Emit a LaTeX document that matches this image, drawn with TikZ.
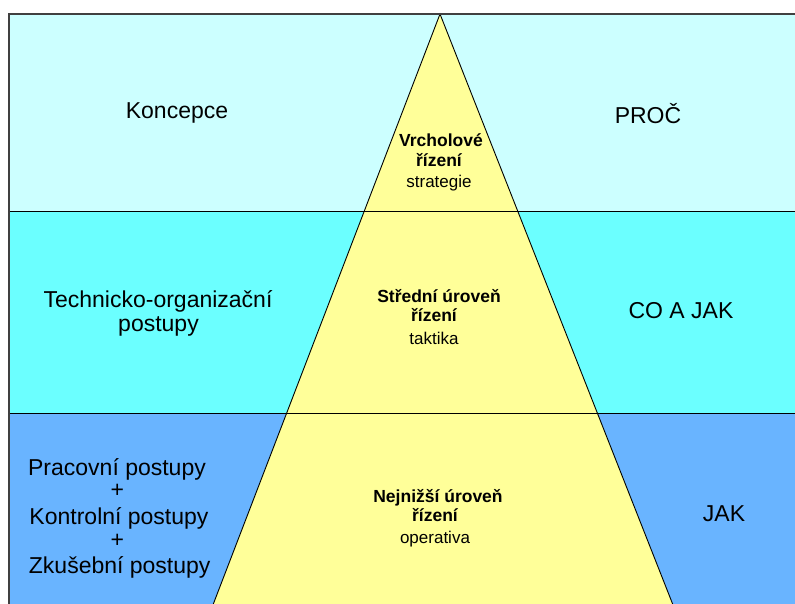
\documentclass[tikz,border=0pt]{standalone}
\usepackage{fontspec}
\setmainfont{Liberation Sans}
\definecolor{bandA}{HTML}{CCFFFF}
\definecolor{bandB}{HTML}{6BFFFF}
\definecolor{bandC}{HTML}{69B4FF}
\definecolor{pyr}{HTML}{FFFF99}
\definecolor{frame}{HTML}{404040}
\begin{document}
\begin{tikzpicture}[x=1pt,y=-1pt,
  side/.style={font=\fontsize{23}{27}\selectfont, anchor=base, inner sep=0pt},
  plus/.style={font=\fontsize{23}{27}\selectfont, anchor=center, inner sep=0pt},
  lvlb/.style={font=\fontsize{17.5}{21}\selectfont\bfseries, anchor=base, inner sep=0pt},
  lvlr/.style={font=\fontsize{17}{21}\selectfont, anchor=base, inner sep=0pt},
  bandline/.style={draw=black, line width=1pt},
  edge/.style={draw=black, line width=0.9pt}]
\path[use as bounding box] (0,0) rectangle (795,604);
\clip (0,0) rectangle (795,604);
\fill[white] (0,0) rectangle (795,604);
% bands
\fill[bandA] (9,14) rectangle (800,212);
\fill[bandB] (9,212) rectangle (800,413);
\fill[bandC] (9,413) rectangle (800,612);
% pyramid
\coordinate (apex) at (440,14);
\coordinate (bl) at (211,610);
\coordinate (br) at (675,610);
\filldraw[fill=pyr, edge] (apex) -- (bl) -- (br) -- cycle;
% band separators
\coordinate (s1l) at (9,212);
\coordinate (s1r) at (800,212);
\coordinate (s2l) at (9,413);
\coordinate (s2r) at (800,413);
\draw[bandline] (s1l) -- (s1r);
\draw[bandline] (s2l) -- (s2r);
% frame (left and top)
\coordinate (fb) at (9,612);
\coordinate (ftl) at (9,14);
\coordinate (ftr) at (800,14);
\draw[draw=frame, line width=1.7pt] (fb) -- (ftl) -- (ftr);
% left labels
\node[side] (konc) at (177,118.3) {Koncepce};
\node[side] (tech1) at (158,307.3) {Technicko-organizační};
\node[side] (tech2) at (158.5,331.5) {postupy};
\node[side] (prac) at (117,475) {Pracovní postupy};
\node[plus] (plus1) at (117.3,490.7) {+};
\node[side] (kont) at (119,524) {Kontrolní postupy};
\node[plus] (plus2) at (117.3,540.7) {+};
\node[side] (zkus) at (119.7,573.3) {Zkušební postupy};
% right labels
\node[side] (proc) at (648,124) {PROČ};
\node[side] (coajak) at (681,318.3) {CO A JAK};
\node[side] (jak) at (724,521.7) {JAK};
% pyramid labels
\node[lvlb] (v1) at (441,147) {Vrcholové};
\node[lvlb] (v2) at (439,166.7) {řízení};
\node[lvlr] (v3) at (439,188) {strategie};
\node[lvlb] (m1) at (439,302.7) {Střední úroveň};
\node[lvlb] (m2) at (434,321.7) {řízení};
\node[lvlr] (m3) at (434,344) {taktika};
\node[lvlb] (n1) at (438,502.7) {Nejnižší úroveň};
\node[lvlb] (n2) at (435,521.7) {řízení};
\node[lvlr] (n3) at (435,543.3) {operativa};
\end{tikzpicture}
\end{document}
